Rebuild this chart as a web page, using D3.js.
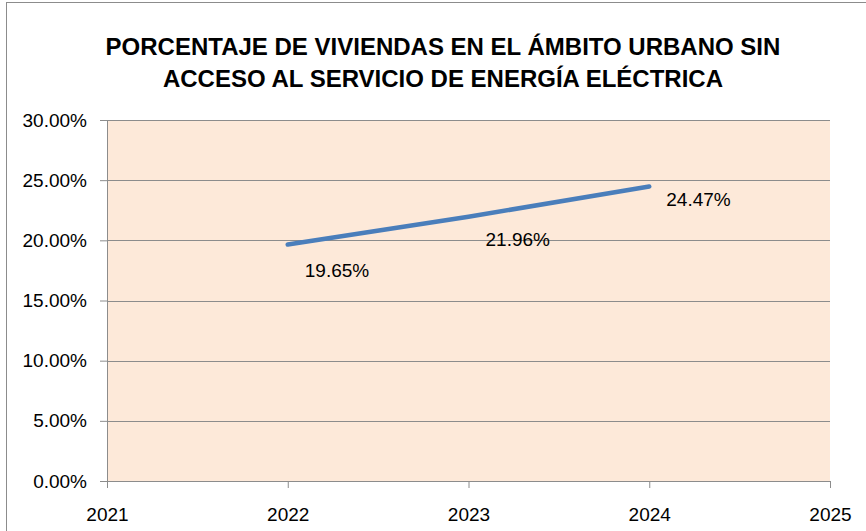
<!DOCTYPE html>
<html>
<head>
<meta charset="utf-8">
<script src="https://cdn.jsdelivr.net/npm/d3@7"></script>
<style>
  body { margin: 0; background: #fff; }
  svg { display: block; font-family: "Liberation Sans", Arial, sans-serif; }
</style>
</head>
<body>
<div id="chart"></div>
<script>
const years = [2022, 2023, 2024];
const values = [0.1965, 0.2196, 0.2447];
const xTicks = [2021, 2022, 2023, 2024, 2025];
const yTicks = [0, 0.05, 0.1, 0.15, 0.2, 0.25, 0.3];
const titleLines = [
  "PORCENTAJE DE VIVIENDAS EN EL ÁMBITO URBANO SIN",
  "ACCESO AL SERVICIO DE ENERGÍA ELÉCTRICA"
];

const width = 866, height = 531;
const margin = { top: 120, right: 36, bottom: 50, left: 107 };

const svg = d3.select("#chart").append("svg")
  .attr("width", width).attr("height", height);

// outer chart border
svg.append("rect")
  .attr("x", 6.5).attr("y", 2.5)
  .attr("width", width + 10).attr("height", height + 10)
  .attr("fill", "#fff").attr("stroke", "#8c8c8c");

const x = d3.scaleLinear().domain([2021, 2025]).range([margin.left, width - margin.right]);
const y = d3.scaleLinear().domain([0, 0.3]).range([height - margin.bottom, margin.top]);

// plot background
svg.append("rect")
  .attr("x", x(2021)).attr("y", y(0.3))
  .attr("width", x(2025) - x(2021)).attr("height", y(0) - y(0.3))
  .attr("fill", "#fde9d9");

// gridlines + y axis
const yAxis = svg.append("g")
  .attr("transform", `translate(${x(2021)},0)`)
  .call(d3.axisLeft(y).tickValues(yTicks).tickFormat(d3.format(".2%"))
    .tickSize(7).tickPadding(13));
yAxis.select(".domain").attr("stroke", "#8c8c8c");
yAxis.selectAll(".tick line").attr("stroke", "#8c8c8c");
yAxis.selectAll(".tick text").style("font-size", "19px").attr("fill", "#000");

svg.append("g").selectAll("line").data(yTicks.filter(d => d > 0)).join("line")
  .attr("x1", x(2021)).attr("x2", x(2025))
  .attr("y1", d => Math.round(y(d)) + 0.5).attr("y2", d => Math.round(y(d)) + 0.5)
  .attr("stroke", "#8c8c8c");

const xAxis = svg.append("g")
  .attr("transform", `translate(0,${y(0)})`)
  .call(d3.axisBottom(x).tickValues(xTicks).tickFormat(d3.format("d"))
    .tickSize(7).tickPadding(20).tickSizeOuter(0));
xAxis.select(".domain").attr("stroke", "#8c8c8c");
xAxis.selectAll(".tick line").attr("stroke", "#8c8c8c");
xAxis.selectAll(".tick text").style("font-size", "19px").attr("fill", "#000");

// line
const line = d3.line().x((d, i) => x(years[i])).y(d => y(d));
svg.append("path")
  .datum(values)
  .attr("d", line)
  .attr("fill", "none")
  .attr("stroke", "#4a7ebb")
  .attr("stroke-width", 4.5)
  .attr("stroke-linecap", "round");

// data labels (nudged below-right like the original)
const labelDy = [32, 29, 19];
svg.append("g").selectAll("text").data(values).join("text")
  .attr("x", (d, i) => x(years[i]) + 17)
  .attr("y", (d, i) => y(d) + labelDy[i])
  .style("font-size", "19px")
  .attr("fill", "#000")
  .text(d3.format(".2%"));

// title
svg.append("g").selectAll("text").data(titleLines).join("text")
  .attr("x", 443)
  .attr("y", (d, i) => 55 + i * 32)
  .attr("text-anchor", "middle")
  .style("font-weight", "bold")
  .style("font-size", "24px")
  .text(d => d);
</script>
</body>
</html>
